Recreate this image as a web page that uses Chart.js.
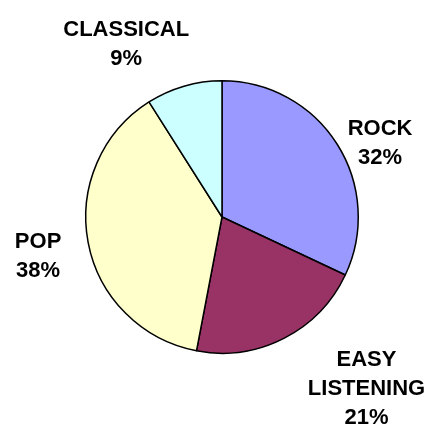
<!DOCTYPE html>
<html>
<head>
<meta charset="utf-8">
<script src="https://cdn.jsdelivr.net/npm/chart.js@4"></script>
<style>
  body { margin: 0; background: #fff; }
  #wrap { width: 428px; height: 436px; position: relative; }
</style>
</head>
<body>
<div id="wrap"><canvas id="pieChart"></canvas></div>
<script>
const genres = ["ROCK", "EASY LISTENING", "POP", "CLASSICAL"];
const shares = [32, 21, 38, 9];
const sliceColors = ["#9999FF", "#993366", "#FFFFCC", "#CCFFFF"];

// label placement: angle (deg, clockwise from top) and distance from centre as multiple of radius
const labelAngle = [65, 140, 258, 331];
const labelDist = [1.28, 1.65, 1.38, 1.45];

const outsideLabels = {
  id: "outsideLabels",
  afterDraw(chart) {
    const ctx = chart.ctx;
    const arcs = chart.getDatasetMeta(0).data;
    ctx.save();
    ctx.font = "bold 22px 'Liberation Sans', Arial, sans-serif";
    ctx.fillStyle = "#000";
    ctx.textAlign = "center";
    ctx.textBaseline = "middle";
    arcs.forEach((arc, i) => {
      const a = (labelAngle[i] - 90) * Math.PI / 180;
      const r = arc.outerRadius * labelDist[i];
      const cx = arc.x + Math.cos(a) * r;
      const cy = arc.y + Math.sin(a) * r;
      const lines = genres[i].split(" ");
      lines.push(shares[i] + "%");
      const lh = 29;
      const top = cy - (lines.length - 1) * lh / 2;
      lines.forEach((t, j) => ctx.fillText(t, cx, top + j * lh));
    });
    ctx.restore();
  }
};

new Chart(document.getElementById("pieChart"), {
  type: "pie",
  data: {
    labels: genres,
    datasets: [{
      data: shares,
      backgroundColor: sliceColors,
      borderColor: "#000",
      borderWidth: 1.5
    }]
  },
  options: {
    responsive: true,
    maintainAspectRatio: false,
    animation: false,
    layout: { padding: { left: 85, right: 69, top: 80, bottom: 82 } },
    plugins: {
      legend: { display: false },
      tooltip: { enabled: false }
    }
  },
  plugins: [outsideLabels]
});
</script>
</body>
</html>
